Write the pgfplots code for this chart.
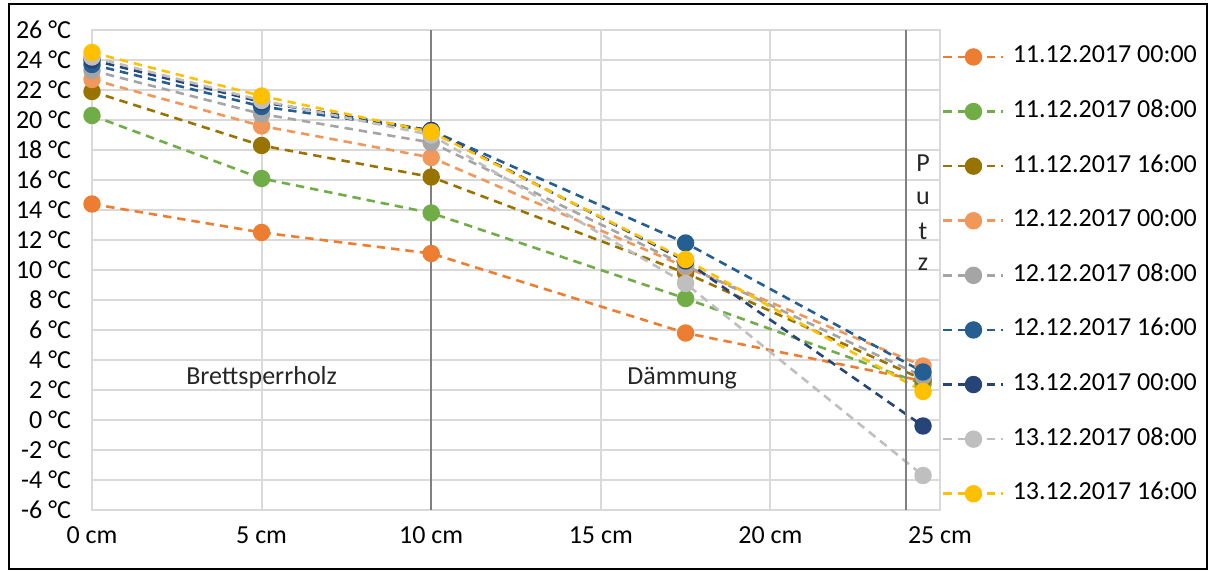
\documentclass[border=0pt]{standalone}
\usepackage{pgfplots}
\usepackage{pgfplotstable}
\pgfplotsset{compat=1.18}
\usepackage{fontspec}
\setmainfont{Carlito}
\definecolor{cA}{HTML}{ED7D31}
\definecolor{cB}{HTML}{70AD47}
\definecolor{cC}{HTML}{997300}
\definecolor{cD}{HTML}{F1975A}
\definecolor{cE}{HTML}{A5A5A5}
\definecolor{cF}{HTML}{255E91}
\definecolor{cG}{HTML}{264478}
\definecolor{cH}{HTML}{BFBFBF}
\definecolor{cI}{HTML}{FFC000}
\definecolor{gridgray}{HTML}{D9D9D9}
\definecolor{sepgray}{HTML}{808080}
\pgfplotstableread{
x     a     b     c     d     e     f     g     h     i
0     14.4  20.3  21.9  22.7  23.3  23.7  24.0  24.2  24.5
5     12.5  16.1  18.3  19.6  20.4  20.9  21.2  21.3  21.6
10    11.1  13.8  16.2  17.5  18.5  19.3  19.3  19.0  19.2
17.5  5.8   8.1   9.8   10.2  10.3  11.8  10.6  9.1   10.7
24.5  2.6   2.4   2.7   3.6   2.9   3.2   -0.4  -3.7  1.9
}\data
\begin{document}
\fontsize{13}{15}\selectfont
\begin{tikzpicture}[x=1pt,y=1pt]
\path[use as bounding box] (0,0) rectangle (605,286);
\draw[line width=1.2pt] (4.5,1.5) rectangle (603.5,284);
\begin{axis}[
  at={(46pt,31pt)}, anchor=south west,
  scale only axis, width=424pt, height=240pt,
  xmin=0, xmax=25, ymin=-6, ymax=26,
  xtick={0,5,10,15,20,25},
  xticklabels={0 cm,5 cm,10 cm,15 cm,20 cm,25 cm},
  ytick={-6,-4,...,26},
  yticklabels={-6 °C,-4 °C,-2 °C,0 °C,2 °C,4 °C,6 °C,8 °C,10 °C,12 °C,14 °C,16 °C,18 °C,20 °C,22 °C,24 °C,26 °C},
  major tick length=0pt,
  tick label style={font=\fontsize{13}{15}\selectfont},
  yticklabel style={xshift=-6pt},
  xticklabel style={yshift=-4pt},
  grid=major,
  major grid style={draw=gridgray, line width=1pt},
  axis line style={draw=gridgray, line width=1pt},
  clip=false,
  every axis plot/.append style={line width=1.3pt, dash pattern=on 4.2pt off 3pt, mark=*, mark size=3.7pt},
  legend style={at={(0.995,0.978)}, anchor=north west, draw=none, fill=none,
    font=\fontsize{13}{15}\selectfont, row sep=15.3pt, column sep=4pt,
    nodes={inner sep=0pt, text height=9pt, text depth=3pt}},
  legend cell align=left,
  legend image code/.code={\draw[mark repeat=2,mark phase=2] plot coordinates {(0pt,0pt) (15pt,0pt) (30pt,0pt)};},
]
\addplot[color=cA, mark options={solid, fill=cA, draw=cA}] table[x=x,y=a] {\data};
\addlegendentry{11.12.2017 00:00}
\addplot[color=cB, mark options={solid, fill=cB, draw=cB}] table[x=x,y=b] {\data};
\addlegendentry{11.12.2017 08:00}
\addplot[color=cC, mark options={solid, fill=cC, draw=cC}] table[x=x,y=c] {\data};
\addlegendentry{11.12.2017 16:00}
\addplot[color=cD, mark options={solid, fill=cD, draw=cD}] table[x=x,y=d] {\data};
\addlegendentry{12.12.2017 00:00}
\addplot[color=cE, mark options={solid, fill=cE, draw=cE}] table[x=x,y=e] {\data};
\addlegendentry{12.12.2017 08:00}
\addplot[color=cF, mark options={solid, fill=cF, draw=cF}] table[x=x,y=f] {\data};
\addlegendentry{12.12.2017 16:00}
\addplot[color=cG, mark options={solid, fill=cG, draw=cG}] table[x=x,y=g] {\data};
\addlegendentry{13.12.2017 00:00}
\addplot[color=cH, mark options={solid, fill=cH, draw=cH}] table[x=x,y=h] {\data};
\addlegendentry{13.12.2017 08:00}
\addplot[color=cI, mark options={solid, fill=cI, draw=cI}] table[x=x,y=i] {\data};
\addlegendentry{13.12.2017 16:00}
\draw[sepgray, line width=1pt] (axis cs:10,-6) -- (axis cs:10,26);
\draw[sepgray, line width=1pt] (axis cs:24,-6) -- (axis cs:24,26);
\node[text=black!85] at (axis cs:5,2.8) {Brettsperrholz};
\node[text=black!85] at (axis cs:17.4,2.8) {Dämmung};
\node[text=black!85] at (axis cs:24.5,17.1) {P};
\node[text=black!85] at (axis cs:24.5,14.8) {u};
\node[text=black!85] at (axis cs:24.5,12.6) {t};
\node[text=black!85] at (axis cs:24.5,10.4) {z};
\end{axis}
\end{tikzpicture}
\end{document}
